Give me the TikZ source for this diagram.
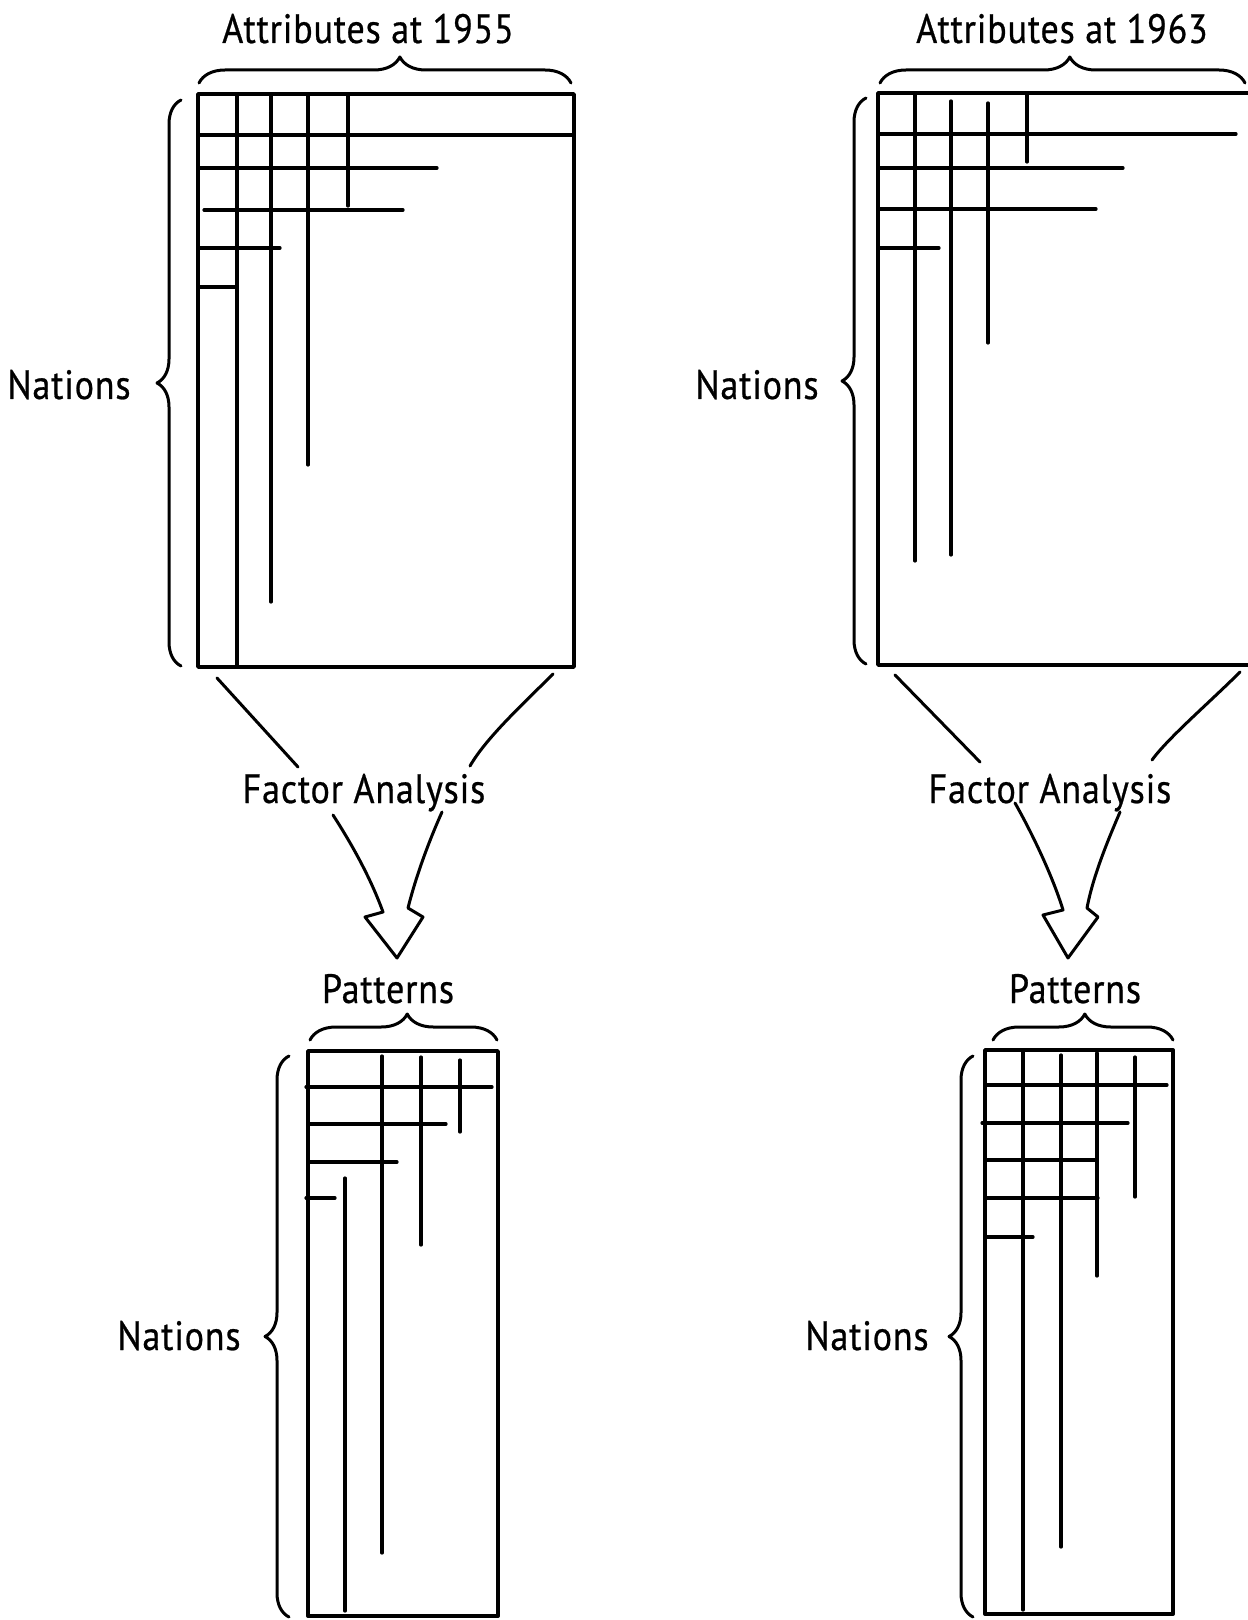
\documentclass[tikz,border=0pt]{standalone}
\usepackage{fontspec}
\setmainfont{PT Sans}[FakeStretch=0.88, FakeBold=0.6, LetterSpace=2]
\usetikzlibrary{decorations.pathreplacing}
\tikzset{
  sheet/.style={
    x=0.5pt,
    y=-0.5pt,
    line cap=round,
    line join=round
  },
  grid-frame/.style={line width=1.9pt},
  grid-line/.style={line width=1.6pt},
  flow-line/.style={line width=1.5pt},
  brace-line/.style={
    line width=1.5pt,
    decorate,
    decoration={brace, amplitude=13pt}
  },
  side-brace/.style={brace-line, decoration={amplitude=12pt}},
  tag-text/.style={
    font=\fontsize{20.5}{24}\selectfont,
    inner sep=0pt,
    anchor=base
  }
}
% vertical rules x/top/bottom, then horizontal rules y/left/right
\newcommand{\gridrules}[2]{%
  \foreach \gx/\gya/\gyb in {#1}
    \draw[grid-line] (\gx,\gya) -- (\gx,\gyb);
  \foreach \gy/\gxa/\gxb in {#2}
    \draw[grid-line] (\gxa,\gy) -- (\gxb,\gy);
}

\begin{document}
\begin{tikzpicture}[sheet]
  \useasboundingbox (0,0) rectangle (1247,1620);

  % data matrix, 1955
  \begin{scope}[shift={(198,94)}]
    \draw[grid-frame] (0,0) rectangle (376,573);
    \gridrules{39/0/573, 73/0/508, 110/0/371, 150/0/112}
              {41/0/376, 74/0/239, 116/6/205, 154/0/82, 193/0/39}
  \end{scope}
  \node[tag-text] (attr55) at (368,43) {Attributes at 1955};
  \draw[brace-line, decoration={aspect=0.54}] (199,83) -- (571,83);
  \node[tag-text] (nat55) at (69,399) {Nations};
  \draw[side-brace] (181,666) -- (181,100);

  % data matrix, 1963 (runs off to the right)
  \begin{scope}[shift={(878,93)}]
    \draw[grid-frame] (0,0) rectangle (400,572);
    \gridrules{37/0/468, 73/8/462, 110/10/250, 149/0/69}
              {41/0/358, 75/0/245, 116/0/218, 155/0/61}
  \end{scope}
  \node[tag-text] (attr63) at (1062,43) {Attributes at 1963};
  \draw[brace-line, decoration={aspect=0.52}] (880,83) -- (1245,83);
  \node[tag-text] (nat63) at (757,399) {Nations};
  \draw[side-brace] (866,664) -- (866,98);

  % factor analysis, 1955
  \node[tag-text] (fa55) at (364,803) {Factor Analysis};
  \coordinate (in55l) at (217,678);
  \coordinate (in55r) at (553,674);
  \coordinate (to55l) at (298,767);
  \coordinate (to55r) at (470,766);
  \draw[flow-line] (in55l) -- (to55l);
  \draw[flow-line] (in55r) .. controls (523,704) and (486,738) .. (to55r);
  \coordinate (out55l) at (333,815);
  \coordinate (out55r) at (442,812);
  \coordinate (tip55) at (397,958);
  \draw[flow-line] (out55l) .. controls (353,846) and (371,879) .. (383,912)
    -- (365,917) -- (tip55) -- (423,917) -- (408,908)
    .. controls (416,876) and (429,841) .. (out55r);

  % factor analysis, 1963
  \node[tag-text] (fa63) at (1050,803) {Factor Analysis};
  \coordinate (in63l) at (895,675);
  \coordinate (in63r) at (1240,672);
  \coordinate (to63l) at (980,762);
  \coordinate (to63r) at (1152,760);
  \draw[flow-line] (in63l) -- (to63l);
  \draw[flow-line] (in63r) .. controls (1210,702) and (1168,738) .. (to63r);
  \coordinate (out63l) at (1015,803);
  \coordinate (out63r) at (1120,812);
  \coordinate (tip63) at (1068,958);
  \draw[flow-line] (out63l) .. controls (1032,833) and (1053,877) .. (1063,910)
    -- (1043,915) -- (tip63) -- (1098,917) -- (1087,908)
    .. controls (1093,876) and (1108,840) .. (out63r);

  % pattern matrix, 1955
  \begin{scope}[shift={(308,1051)}]
    \draw[grid-frame] (0,0) rectangle (190,565);
    \gridrules{37/127/560, 74/5/502, 113/6/194, 152/9/81}
              {36/-2/184, 73/0/138, 111/0/89, 147/-2/27}
  \end{scope}
  \node[tag-text] (pat55) at (388,1003) {Patterns};
  \draw[brace-line, decoration={aspect=0.52}] (310,1040) -- (497,1040);
  \node[tag-text] (pnat55) at (179,1350) {Nations};
  \draw[side-brace] (289,1617) -- (289,1056);

  % pattern matrix, 1963
  \begin{scope}[shift={(985,1050)}]
    \draw[grid-frame] (0,0) rectangle (188,564);
    \gridrules{38/0/560, 76/5/497, 112/3/226, 150/7/147}
              {35/0/182, 73/-3/143, 110/0/110, 148/0/113, 187/0/48}
  \end{scope}
  \node[tag-text] (pat63) at (1075,1003) {Patterns};
  \draw[brace-line, decoration={aspect=0.51}] (993,1040) -- (1173,1040);
  \node[tag-text] (pnat63) at (867,1350) {Nations};
  \draw[side-brace] (973,1617) -- (973,1056);
\end{tikzpicture}
\end{document}
